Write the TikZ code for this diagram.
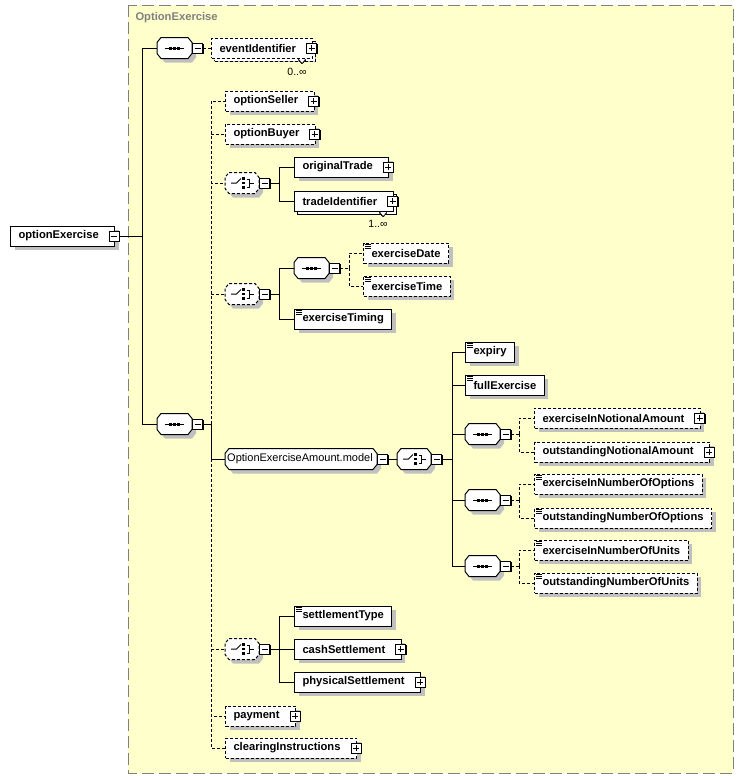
\documentclass[tikz,border=0pt]{standalone}
\usepackage{fontspec}
\setmainfont{Liberation Sans}
\usetikzlibrary{shadows}

\definecolor{panel}{RGB}{255,255,204}
\definecolor{shadowgrey}{RGB}{192,192,192}
\definecolor{framegrey}{RGB}{128,128,128}

% outline of a compositor drawn round an empty node
\newcommand{\octo}[2][]{%
  \draw[fill=white, drop shadow={shadow xshift=4pt, shadow yshift=-4pt, fill=shadowgrey, opacity=1}, #1]
    ([xshift=4pt]#2.north west) -- ([xshift=-4pt]#2.north east)
    -- ([yshift=-5pt]#2.north east) -- ([yshift=5pt]#2.south east)
    -- ([xshift=-4pt]#2.south east) -- ([xshift=4pt]#2.south west)
    -- ([yshift=5pt]#2.south west) -- ([yshift=-5pt]#2.north west) -- cycle;}
\newcommand{\seqmark}[1]{%
  \draw ([xshift=-9.5pt]#1.center) -- ([xshift=9.5pt]#1.center);
  \foreach \dx in {-4,0,4}
    \fill ([xshift={\dx pt-1.2pt},yshift=-1.5pt]#1.center) rectangle ([xshift={\dx pt+1.2pt},yshift=1.5pt]#1.center);}
\newcommand{\choicemark}[1]{%
  \draw ([xshift=-11pt]#1.center) -- ([xshift=-5.5pt]#1.center) -- ([xshift=-1pt,yshift=4.5pt]#1.center);
  \foreach \dy in {4.5,0,-4.5}
    \fill ([xshift=0.3pt,yshift={\dy pt-1.2pt}]#1.center) rectangle ([xshift=2.8pt,yshift={\dy pt+1.2pt}]#1.center);
  \draw ([xshift=4.5pt,yshift=4pt]#1.center) -- ([xshift=7.5pt,yshift=4pt]#1.center)
    -- ([xshift=7.5pt,yshift=-4pt]#1.center) -- ([xshift=4.5pt,yshift=-4pt]#1.center)
    ([xshift=7.5pt]#1.center) -- ([xshift=12pt]#1.center);}
\newcommand{\docmark}[1]{%
  \foreach \dy in {2,3.8,5.6}
    \draw[line width=.7pt] ([xshift=2pt,yshift=-\dy pt]#1.north west) -- ([xshift=7.5pt,yshift=-\dy pt]#1.north west);}

\begin{document}
\begin{tikzpicture}[x=1pt, y=-1pt, line width=1pt,
  el/.style={draw, fill=white, anchor=west, minimum height=20pt, inner xsep=8pt, inner ysep=0pt,
    font=\bfseries\fontsize{11.2}{13}\selectfont,
    drop shadow={shadow xshift=4pt, shadow yshift=-4pt, fill=shadowgrey, opacity=1}},
  opt/.style={dash pattern=on 3pt off 2pt},
  kids/.style={execute at end node={\kern8pt}},
  many/.style={copy shadow={shadow xshift=3pt, shadow yshift=-3pt, draw=black, fill=white, #1}},
  many/.default={},
  compo/.style={anchor=west, minimum width=34pt, minimum height=20pt, inner sep=0pt},
  sign/.style={draw, fill=white, minimum size=10pt, inner sep=0pt, line width=1pt,
    drop shadow={shadow xshift=1pt, shadow yshift=-1pt, fill=black, opacity=1}},
  plus/.style={sign, path picture={\draw[line width=1pt]
    ([xshift=2pt]path picture bounding box.west) -- ([xshift=-2pt]path picture bounding box.east)
    ([yshift=2pt]path picture bounding box.south) -- ([yshift=-2pt]path picture bounding box.north);}},
  minus/.style={sign, path picture={\draw[line width=1pt]
    ([xshift=2pt]path picture bounding box.west) -- ([xshift=-2pt]path picture bounding box.east);}},
  mult/.style={font=\fontsize{10.5}{12}\selectfont, inner sep=0pt},
  title/.style={anchor=west, inner sep=0pt, text=framegrey, font=\bfseries\fontsize{11.2}{13}\selectfont}]

\useasboundingbox (0,0) rectangle (743,780);
\draw[framegrey, fill=panel, dash pattern=on 12pt off 5pt] (128,5) rectangle (733,773);
\node[title] (frametitle) at (135,18) {OptionExercise};

% root element
\node[el, kids] (root) at (10,236) {optionExercise};
\node[minus] (rootx) at ([xshift=-1pt]root.east) {};
\coordinate (jroot) at (142,236);
\draw (rootx) -- (jroot);

% first sequence
\node[compo] (seqtop) at (157,48) {};
\octo{seqtop}\seqmark{seqtop}
\node[minus] (seqtopx) at ([xshift=5.5pt]seqtop.east) {};
\node[el, opt, kids, many=opt] (eventid) at (211,48) {eventIdentifier};
\node[mult] (eventidn) at (297,72) {0..∞};
\draw (jroot) |- (seqtop);
\draw[opt] (seqtopx) -- (eventid);

% main sequence
\node[compo] (seqmain) at (157,424) {};
\octo{seqmain}\seqmark{seqmain}
\node[minus] (seqmainx) at ([xshift=5.5pt]seqmain.east) {};
\coordinate (jmain) at (211,424);
\draw (jroot) |- (seqmain);
\draw (seqmainx) -- (jmain);

\node[el, opt, kids] (seller) at (225,101) {optionSeller};
\node[el, opt, kids] (buyer) at (225,134) {optionBuyer};

% trade choice
\node[compo, minimum width=33pt] (choicetrade) at (225,183) {};
\octo[opt]{choicetrade}\choicemark{choicetrade}
\node[minus] (choicetradex) at ([xshift=5.5pt]choicetrade.east) {};
\coordinate (jtrade) at (279,183);
\draw (choicetradex) -- (jtrade);
\node[el, kids] (origtrade) at (294,167) {originalTrade};
\node[el, kids, many] (tradeid) at (294,201) {tradeIdentifier};
\node[mult] (tradeidn) at (378,224) {1..∞};
\draw (jtrade) |- (origtrade);
\draw (jtrade) |- (tradeid);

% date choice
\node[compo, minimum width=33pt] (choicedate) at (225,294) {};
\octo[opt]{choicedate}\choicemark{choicedate}
\node[minus] (choicedatex) at ([xshift=5.5pt]choicedate.east) {};
\coordinate (jdate) at (279,294);
\draw (choicedatex) -- (jdate);
\node[compo] (seqdate) at (294,268) {};
\octo{seqdate}\seqmark{seqdate}
\node[minus] (seqdatex) at ([xshift=5.5pt]seqdate.east) {};
\coordinate (jseqdate) at (349,268);
\draw[opt] (seqdatex) -- (jseqdate);
\node[el, opt] (exdate) at (363,253) {exerciseDate};
\node[el, opt] (extime) at (363,286) {exerciseTime};
\draw[opt] (jseqdate) |- (exdate);
\draw[opt] (jseqdate) |- (extime);
\node[el] (extiming) at (294,319) {exerciseTiming};
\draw (jdate) |- (seqdate);
\draw (jdate) |- (extiming);

% amount model
\node[compo, minimum width=151pt] (modelbox) at (225,459) {};
\octo{modelbox}
\node[font=\fontsize{11}{12}\selectfont, inner sep=0pt] (model) at ([xshift=-1pt]modelbox.center) {OptionExerciseAmount.model};
\node[minus] (modelx) at ([xshift=5.5pt]modelbox.east) {};
\draw (jmain) |- (modelbox);
\node[compo, minimum width=33pt] (choiceamount) at (397,459) {};
\octo{choiceamount}\choicemark{choiceamount}
\node[minus] (choiceamountx) at ([xshift=5.5pt]choiceamount.east) {};
\coordinate (jamount) at (452,459);
\draw (modelx) -- (choiceamount);
\draw (choiceamountx) -- (jamount);

\node[el] (expiry) at (465,352) {expiry};
\node[el] (fullex) at (465,385) {fullExercise};
\node[compo] (seqnotional) at (465,434) {};
\node[compo] (seqoptions) at (465,500) {};
\node[compo] (sequnits) at (465,566) {};
\foreach \s in {seqnotional,seqoptions,sequnits} {
  \octo{\s}\seqmark{\s}
  \node[minus] (\s x) at ([xshift=5.5pt]\s.east) {};
}
\foreach \k in {expiry,fullex,seqnotional,seqoptions,sequnits}
  \draw (jamount) |- (\k);

\node[el, opt, kids] (exnotional) at (534,418) {exerciseInNotionalAmount};
\node[el, opt, kids] (outnotional) at (534,452) {outstandingNotionalAmount};
\node[el, opt] (exoptions) at (534,484) {exerciseInNumberOfOptions};
\node[el, opt] (outoptions) at (534,518) {outstandingNumberOfOptions};
\node[el, opt] (exunits) at (534,550) {exerciseInNumberOfUnits};
\node[el, opt] (outunits) at (534,583) {outstandingNumberOfUnits};
\coordinate (jnotional) at (519,434);
\coordinate (joptions) at (519,500);
\coordinate (junits) at (519,566);
\draw[opt] (seqnotionalx) -- (jnotional) (jnotional) |- (exnotional) (jnotional) |- (outnotional);
\draw[opt] (seqoptionsx) -- (joptions) (joptions) |- (exoptions) (joptions) |- (outoptions);
\draw[opt] (sequnitsx) -- (junits) (junits) |- (exunits) (junits) |- (outunits);

% settlement choice
\node[compo, minimum width=33pt] (choicesettle) at (225,649) {};
\octo[opt]{choicesettle}\choicemark{choicesettle}
\node[minus] (choicesettlex) at ([xshift=5.5pt]choicesettle.east) {};
\coordinate (jsettle) at (279,649);
\draw (choicesettlex) -- (jsettle);
\node[el] (settletype) at (294,616) {settlementType};
\node[el, kids] (cash) at (294,649) {cashSettlement};
\node[el, kids] (physical) at (294,682) {physicalSettlement};
\draw (jsettle) |- (settletype);
\draw (jsettle) |- (cash);
\draw (jsettle) |- (physical);

\node[el, opt, kids] (payment) at (225,716) {payment};
\node[el, opt, kids] (clearing) at (225,748) {clearingInstructions};

\foreach \k in {seller,buyer,choicetrade,choicedate,choicesettle,payment,clearing}
  \draw[opt] (jmain) |- (\k);

% plus boxes, doc marks, stack marks
\foreach \k in {eventid,seller,buyer,origtrade,tradeid,exnotional,outnotional,cash,physical,payment,clearing}
  \node[plus] (\k x) at ([xshift=-1pt]\k.east) {};
\foreach \k in {exdate,extime,extiming,expiry,fullex,exoptions,outoptions,exunits,outunits,settletype}
  \docmark{\k}
\foreach \k in {eventid,tradeid}
  \draw[line width=.6pt, fill=white] ([xshift=-14pt,yshift=-1pt]\k.south east) -- ++(3.5,4) -- ++(3.5,-4);
\end{tikzpicture}
\end{document}
